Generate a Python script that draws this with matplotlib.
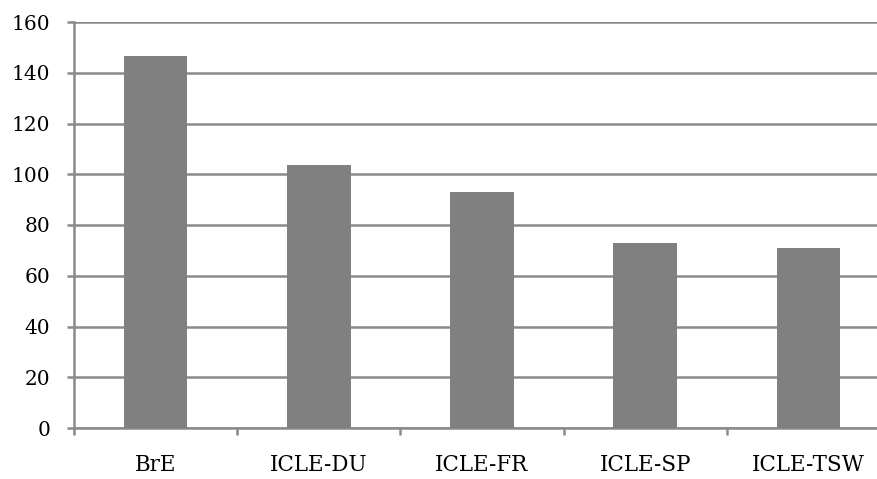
import numpy as np
import matplotlib
matplotlib.use("Agg")
import matplotlib.pyplot as plt

categories = ["BrE", "ICLE-DU", "ICLE-FR", "ICLE-SP", "ICLE-TSW"]
values = [146.5, 103.5, 93, 72.8, 70.8]
y_ticks = [0, 20, 40, 60, 80, 100, 120, 140, 160]

GRAY = "#8a8a8a"
BAR = "#808080"

plt.rcParams["font.family"] = ["DejaVu Serif"]

fig = plt.figure(figsize=(8.78, 4.79), dpi=100)
ax = fig.add_axes([74 / 878, 51 / 479, 816 / 878, 406 / 479])

x = np.arange(len(categories))
ax.bar(x, values, width=0.39, color=BAR, zorder=3)

ax.set_xlim(-0.5, len(categories) - 0.5)
ax.set_ylim(0, 160)
ax.set_yticks(y_ticks)
ax.set_yticklabels([str(v) for v in y_ticks], fontsize=14.5)
ax.yaxis.grid(True, color=GRAY, linewidth=1.8, zorder=0)
ax.set_axisbelow(True)

ax.set_xticks(x)
ax.set_xticklabels(categories, fontsize=15.5)
ax.set_xticks(np.arange(-0.5, len(categories)), minor=True)
ax.tick_params(axis="x", which="major", length=0, pad=19)
ax.tick_params(axis="x", which="minor", length=5, width=1.8, color=GRAY)
ax.tick_params(axis="y", length=5, width=1.8, color=GRAY, pad=12)

for side in ["top", "right"]:
    ax.spines[side].set_visible(False)
for side in ["left", "bottom"]:
    ax.spines[side].set_color(GRAY)
    ax.spines[side].set_linewidth(1.8)

fig.savefig("out.png", dpi=100)
